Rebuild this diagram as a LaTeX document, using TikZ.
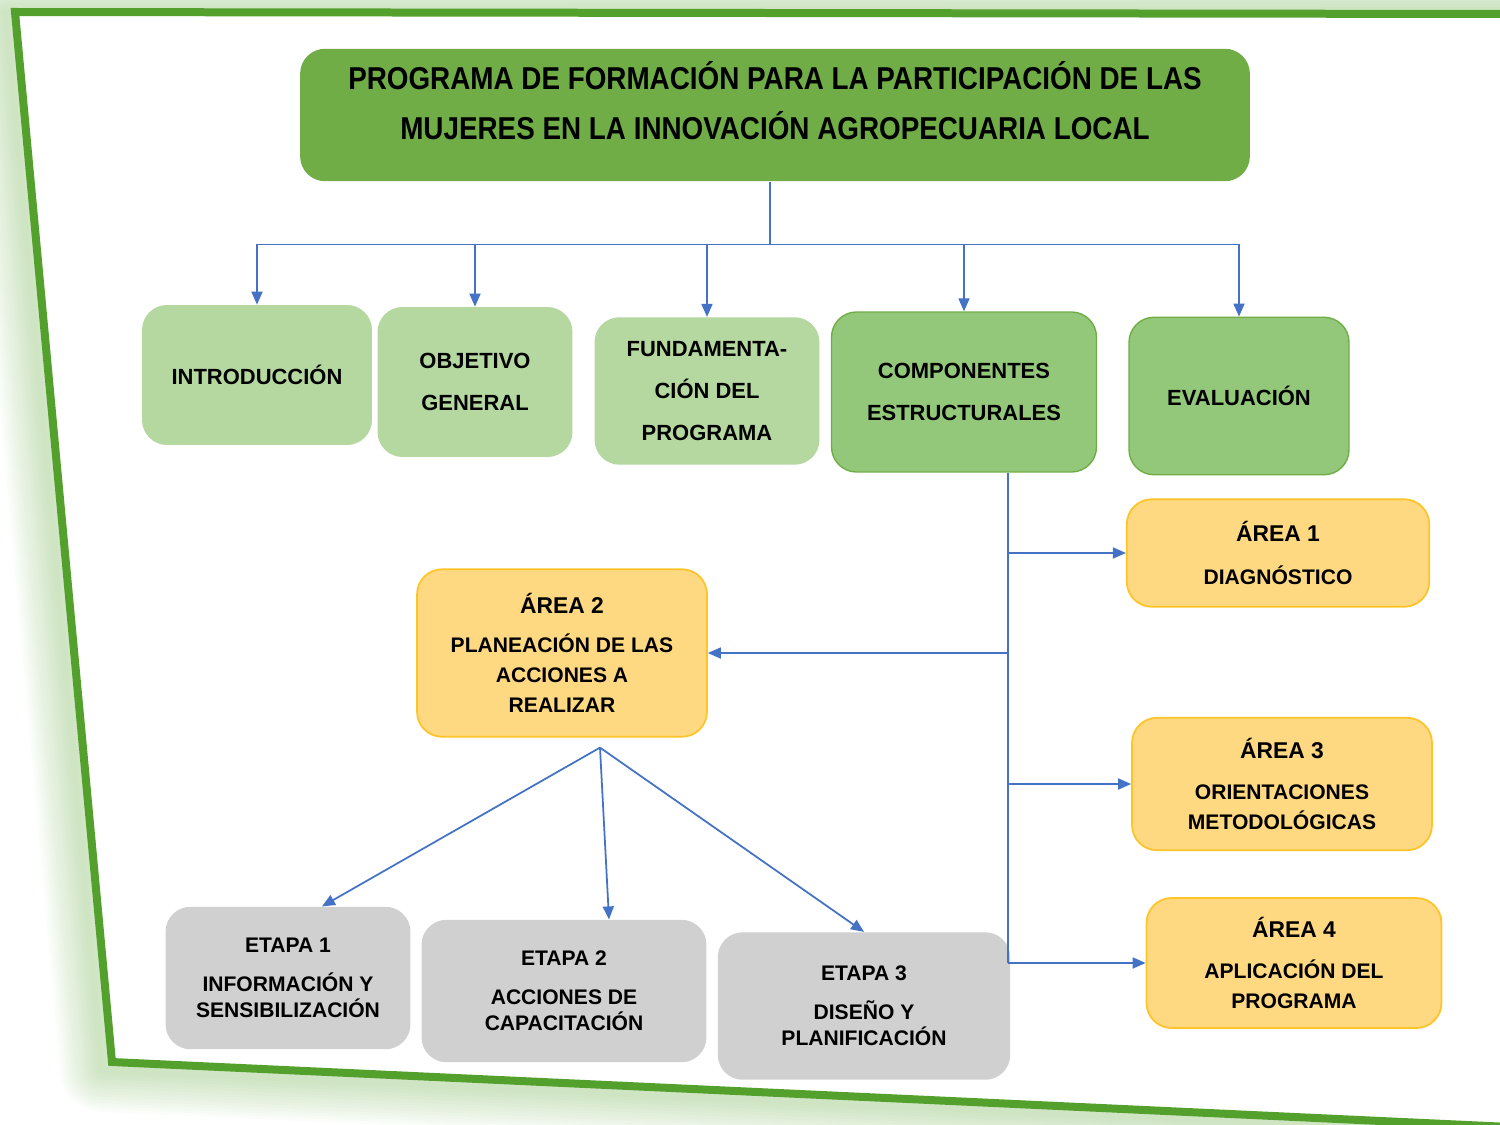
\documentclass[tikz,border=0pt]{standalone}
\usepackage{graphicx}
\usepackage{fontspec}
\setmainfont{Liberation Sans}
\usetikzlibrary{positioning, calc, arrows.meta}

\definecolor{frameGreen}{RGB}{84,160,44}
\definecolor{titleGreen}{RGB}{112,173,71}
\definecolor{lightGreen}{RGB}{181,215,160}
\definecolor{midGreen}{RGB}{147,200,122}
\definecolor{areaGold}{RGB}{255,216,130}
\definecolor{areaEdge}{RGB}{255,196,40}
\definecolor{etapaGray}{RGB}{208,208,208}
\definecolor{linkBlue}{RGB}{68,114,196}

\tikzstyle{box} = [rounded corners=0.5cm, align=center, text=black, inner sep=2pt]
\tikzstyle{titlebox} = [box, fill=titleGreen, minimum width=19cm, minimum height=2.65cm, font=\bfseries\fontsize{18}{28.5}\selectfont]
\tikzstyle{topbox} = [box, fill=lightGreen, font=\bfseries\fontsize{12.5}{24}\selectfont]
\tikzstyle{compbox} = [topbox, fill=midGreen, draw=titleGreen, line width=0.8pt]
\tikzstyle{areabox} = [box, fill=areaGold, draw=areaEdge, line width=1pt, font=\bfseries\fontsize{12}{17}\selectfont]
\tikzstyle{etapabox} = [box, fill=etapaGray, font=\bfseries\fontsize{12}{15}\selectfont]
\tikzstyle{link} = [draw=linkBlue, line width=1pt]
\tikzstyle{arrow} = [link, -{Triangle[length=2.6mm,width=2.2mm]}]

\newcommand{\areahead}[1]{{\fontsize{13}{16}\selectfont #1}}
\newcommand{\tight}[1]{\scalebox{0.88}[1]{#1}}

\begin{document}
\begin{tikzpicture}[x=0.02cm, y=-0.02cm]
		\useasboundingbox (0,0) rectangle (1500,1125);
		\clip (0,0) rectangle (1500,1125);

		%Frame with glow
		\foreach \i in {1,...,14}
			\draw[frameGreen, line width=\i*1.2mm, opacity=0.022, line join=round] (1510,1134) -- (102,1070) -- (6,12) -- (1510,10);
		\fill[white] (15,12) -- (1510,14) -- (1510,1127) -- (112,1062) -- cycle;
		\draw[frameGreen, line width=1.6mm] (1510,1127) -- (112,1062) -- (15,12) -- (1510,14);

		%Title
		\node[titlebox] (title) at (775,115) {\tight{PROGRAMA DE FORMACIÓN PARA LA PARTICIPACIÓN DE LAS}\\ \tight{MUJERES EN LA INNOVACIÓN AGROPECUARIA LOCAL}\\[-12pt]\mbox{}};

		%Main parts
		\node[topbox, minimum width=4.6cm, minimum height=2.8cm] (intro) at (257,375) {INTRODUCCIÓN};
		\node[topbox, minimum width=3.9cm, minimum height=3cm] (objetivo) at (475,382) {OBJETIVO\\GENERAL};
		\node[topbox, minimum width=4.5cm, minimum height=2.95cm] (fundam) at (707,391) {FUNDAMENTA-\\CIÓN DEL\\PROGRAMA};
		\node[compbox, minimum width=5.3cm, minimum height=3.2cm] (compon) at (964,392) {COMPONENTES\\ESTRUCTURALES};
		\node[compbox, minimum width=4.4cm, minimum height=3.15cm] (evalua) at (1239,396) {EVALUACIÓN};

		%Areas
		\node[areabox, minimum width=6.05cm, minimum height=2.15cm] (area1) at (1278,553) {\areahead{ÁREA 1}\\[8pt] DIAGNÓSTICO};
		\node[areabox, minimum width=5.8cm, minimum height=3.35cm] (area2) at (562,653) {\areahead{ÁREA 2}\\[5pt] PLANEACIÓN DE LAS\\ ACCIONES A\\ REALIZAR};
		\node[areabox, minimum width=6cm, minimum height=2.65cm] (area3) at (1282,784) {\areahead{ÁREA 3}\\[6pt] ORIENTACIONES\\ METODOLÓGICAS};
		\node[areabox, minimum width=5.9cm, minimum height=2.6cm] (area4) at (1294,963) {\areahead{ÁREA 4}\\[6pt] APLICACIÓN DEL\\ PROGRAMA};

		%Stages
		\node[etapabox, minimum width=4.9cm, minimum height=2.85cm] (etapa1) at (288,978) {ETAPA 1\\[7pt] INFORMACIÓN Y\\ SENSIBILIZACIÓN};
		\node[etapabox, minimum width=5.7cm, minimum height=2.85cm] (etapa2) at (564,991) {ETAPA 2\\[7pt] ACCIONES DE\\ CAPACITACIÓN};
		\node[etapabox, minimum width=5.85cm, minimum height=2.95cm] (etapa3) at (864,1006) {ETAPA 3\\[7pt] DISEÑO Y\\ PLANIFICACIÓN};

		%connections title -> parts
		\coordinate (bus) at ($(title.south)+(-5,63)$);
		\draw[link] (title.south -| bus) -- (bus);
		\foreach \n in {intro, objetivo, fundam, compon, evalua}
			\draw[arrow] (bus) -| (\n.north);

		%connections components -> areas
		\coordinate (spine) at ($(compon.south)+(44,0)$);
		\draw[link] (spine) -- (spine |- area4.west);
		\draw[arrow] (spine |- area1.west) -- (area1.west);
		\draw[arrow] (spine |- area2.east) -- (area2.east);
		\draw[arrow] (spine |- area3.west) -- (area3.west);
		\draw[arrow] (spine |- area4.west) -- (area4.west);

		%connections area 2 -> stages
		\coordinate (fork) at ($(area2.south)+(38,10)$);
		\draw[arrow] (fork) -- ($(etapa1.north)+(34,0)$);
		\draw[arrow] (fork) -- ($(etapa2.north)+(45,0)$);
		\draw[arrow] (fork) -- (etapa3.north);

	\end{tikzpicture}
\end{document}
